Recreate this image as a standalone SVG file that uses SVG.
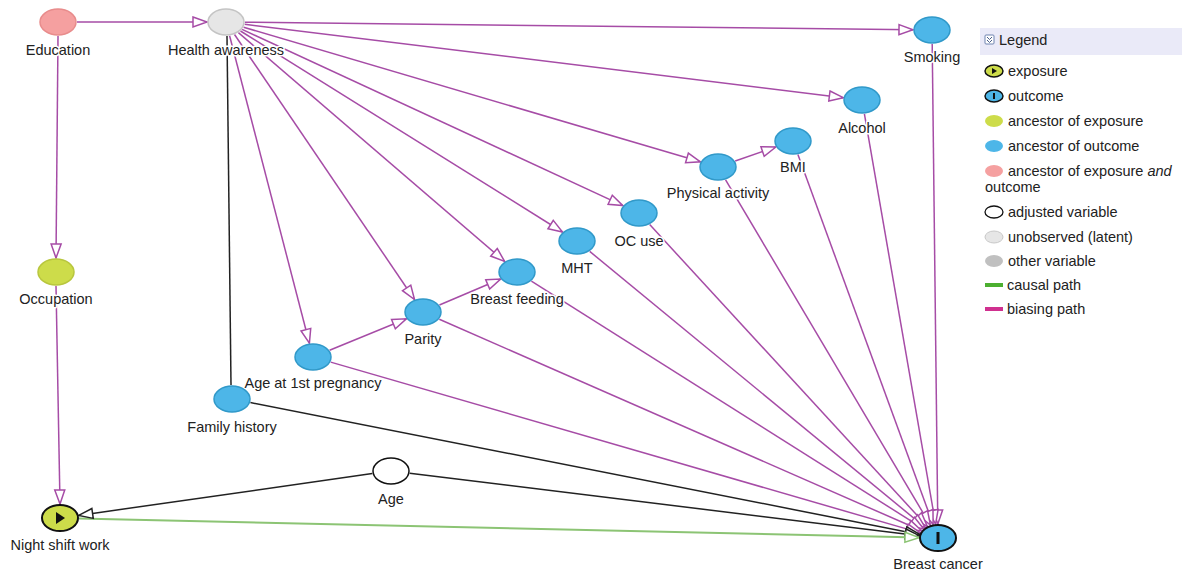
<svg xmlns="http://www.w3.org/2000/svg" width="1182" height="571" viewBox="0 0 1182 571">
<style>
text{font-family:"Liberation Sans",Arial,sans-serif;font-size:14.5px;fill:#222}
.lbl{text-anchor:middle;paint-order:stroke;stroke:#fff;stroke-width:3px;stroke-linejoin:round}
.pk{stroke:#a64ca6;stroke-width:1.5;fill:none;marker-end:url(#ap)}
.bk{stroke:#222;stroke-width:1.5;fill:none}
.gr{stroke:#8cc474;stroke-width:2;fill:none;marker-end:url(#ag)}
.blue{fill:#4db6e8;stroke:#3199c9;stroke-width:1.5}
.pinkn{fill:#f5a0a0;stroke:#e88c8c;stroke-width:1.5}
.gray{fill:#e6e6e6;stroke:#c4c4c4;stroke-width:1.5}
.yel{fill:#cddc4a;stroke:#b8c63e;stroke-width:1.5}
</style>
<defs>
<marker id="ap" markerUnits="userSpaceOnUse" markerWidth="16" markerHeight="12" refX="14" refY="5" orient="auto" overflow="visible"><path d="M0,0 L14,5 L0,10 Z" fill="#fff" stroke="#a64ca6" stroke-width="1.5"/></marker>
<marker id="ab" markerUnits="userSpaceOnUse" markerWidth="16" markerHeight="12" refX="14" refY="5" orient="auto" overflow="visible"><path d="M0,0 L14,5 L0,10 Z" fill="#fff" stroke="#222" stroke-width="1.5"/></marker>
<marker id="ag" markerUnits="userSpaceOnUse" markerWidth="16" markerHeight="12" refX="14" refY="5" orient="auto" overflow="visible"><path d="M0,0 L14,5 L0,10 Z" fill="#fff" stroke="#8cc474" stroke-width="1.5"/></marker>
</defs>
<rect width="1182" height="571" fill="#fff"/>
<g id="connectors">
<line class="pk" x1="77" y1="22" x2="207" y2="22"/>
<line class="pk" x1="58" y1="36" x2="56" y2="258"/>
<line class="pk" x1="56" y1="286" x2="60" y2="504"/>
<line class="pk" x1="245" y1="22.2" x2="913" y2="29.8"/>
<line class="pk" x1="244.7" y1="24.3" x2="843.3" y2="97.7"/>
<line class="pk" x1="243.6" y1="27.2" x2="700.4" y2="161.8"/>
<line class="pk" x1="242.1" y1="29.4" x2="622.9" y2="205.6"/>
<line class="pk" x1="240.5" y1="31" x2="562.5" y2="232"/>
<line class="pk" x1="238.4" y1="32.6" x2="504.6" y2="261.4"/>
<line class="pk" x1="234.5" y1="34.5" x2="414.5" y2="299.5"/>
<line class="pk" x1="229.6" y1="35.8" x2="309.4" y2="343.2"/>
<line class="bk" x1="227" y1="36" x2="231" y2="385"/>
<line class="pk" x1="329.6" y1="350.2" x2="406.4" y2="318.8"/>
<line class="pk" x1="439.4" y1="305" x2="500.6" y2="279"/>
<line class="pk" x1="735.2" y1="161" x2="775.8" y2="147"/>
<line class="pk" x1="932.2" y1="44" x2="937.8" y2="524"/>
<line class="pk" x1="864.4" y1="113.9" x2="935.6" y2="524.1"/>
<line class="pk" x1="797.9" y1="154.5" x2="933.1" y2="524.5"/>
<line class="pk" x1="725.6" y1="179.8" x2="930.4" y2="525.2"/>
<line class="pk" x1="649.7" y1="224.6" x2="927.3" y2="526.4"/>
<line class="pk" x1="589.7" y1="251.4" x2="925.3" y2="527.6"/>
<line class="pk" x1="531.4" y1="281.1" x2="923.6" y2="528.9"/>
<line class="pk" x1="439.3" y1="319.2" x2="921.7" y2="530.8"/>
<line class="pk" x1="330.7" y1="362.1" x2="920.3" y2="532.9"/>
<line class="bk" x1="250.4" y1="402.6" x2="919.6" y2="534.4" marker-end="url(#ab)"/>
<line class="bk" x1="409.7" y1="473.3" x2="919.3" y2="535.7" marker-end="url(#ab)"/>
<line class="gr" x1="79" y1="518.4" x2="919" y2="537.6"/>
<line class="bk" x1="372.3" y1="473.6" x2="78.7" y2="515.4" marker-end="url(#ab)"/>
</g>
<g id="education"><ellipse class="pinkn" cx="58" cy="22" rx="18" ry="13"/><text class="lbl" x="58" y="55">Education</text></g>
<g id="health-awareness"><ellipse class="gray" cx="226" cy="22" rx="18" ry="13"/><text class="lbl" x="226" y="55">Health awareness</text></g>
<g id="smoking"><ellipse class="blue" cx="932" cy="30" rx="18" ry="13"/><text class="lbl" x="932" y="62">Smoking</text></g>
<g id="alcohol"><ellipse class="blue" cx="862" cy="100" rx="18" ry="13"/><text class="lbl" x="862" y="133">Alcohol</text></g>
<g id="bmi"><ellipse class="blue" cx="793" cy="141" rx="18" ry="13"/><text class="lbl" x="793" y="172">BMI</text></g>
<g id="physical-activity"><ellipse class="blue" cx="718" cy="167" rx="18" ry="13"/><text class="lbl" x="718" y="198">Physical activity</text></g>
<g id="oc-use"><ellipse class="blue" cx="639" cy="213" rx="18" ry="13"/><text class="lbl" x="639" y="246">OC use</text></g>
<g id="mht"><ellipse class="blue" cx="577" cy="241" rx="18" ry="13"/><text class="lbl" x="577" y="273">MHT</text></g>
<g id="breast-feeding"><ellipse class="blue" cx="517" cy="272" rx="18" ry="13"/><text class="lbl" x="517" y="304">Breast feeding</text></g>
<g id="parity"><ellipse class="blue" cx="423" cy="312" rx="18" ry="13"/><text class="lbl" x="423" y="344">Parity</text></g>
<g id="age-1st-pregnancy"><ellipse class="blue" cx="313" cy="357" rx="18" ry="13"/><text class="lbl" x="313" y="388">Age at 1st pregnancy</text></g>
<g id="family-history"><ellipse class="blue" cx="232" cy="399" rx="18" ry="13"/><text class="lbl" x="232" y="432">Family history</text></g>
<g id="occupation"><ellipse class="yel" cx="56" cy="272" rx="18" ry="13"/><text class="lbl" x="56" y="304">Occupation</text></g>
<g id="night-shift-work"><ellipse cx="60" cy="518" rx="18" ry="13" fill="#cddc4a" stroke="#111" stroke-width="2"/><path d="M56,512 L65,518 L56,524 Z" fill="#111"/><text class="lbl" x="60" y="550">Night shift work</text></g>
<g id="age"><ellipse cx="391" cy="471" rx="18" ry="13" fill="#fff" stroke="#111" stroke-width="1.5"/><text class="lbl" x="391" y="504">Age</text></g>
<g id="breast-cancer"><ellipse cx="938" cy="538" rx="18" ry="13" fill="#4db6e8" stroke="#111" stroke-width="2"/><rect x="936.5" y="532" width="3" height="12" fill="#111"/><text class="lbl" x="938" y="569">Breast cancer</text></g>
<g id="legend">
<rect x="980" y="28" width="202" height="27" fill="#eaeaf8"/>
<rect x="985" y="35" width="9" height="9" fill="#fff" stroke="#6f84b0" stroke-width="1" rx="1"/>
<path d="M987,37 L989.5,39.5 L992,37 M987,40 L989.5,42.5 L992,40" fill="none" stroke="#4a5f8a" stroke-width="1"/>
<text x="999" y="45">Legend</text>
<ellipse cx="994" cy="71" rx="9" ry="6" fill="#cddc4a" stroke="#111" stroke-width="1.5"/><path d="M992,68 L997,71 L992,74 Z" fill="#111"/>
<text x="1008" y="76">exposure</text>
<ellipse cx="994" cy="96" rx="9" ry="6" fill="#4db6e8" stroke="#111" stroke-width="1.5"/><rect x="993" y="93" width="2" height="6" fill="#111"/>
<text x="1008" y="101">outcome</text>
<ellipse cx="994" cy="121" rx="9" ry="6" fill="#cddc4a"/>
<text x="1008" y="126">ancestor of exposure</text>
<ellipse cx="994" cy="146" rx="9" ry="6" fill="#4db6e8"/>
<text x="1008" y="151">ancestor of outcome</text>
<ellipse cx="994" cy="171" rx="9" ry="6" fill="#f5a0a0"/>
<text x="1008" y="176">ancestor of exposure <tspan font-style="italic">and</tspan></text>
<text x="985" y="192">outcome</text>
<ellipse cx="994" cy="212" rx="9" ry="6" fill="#fff" stroke="#111" stroke-width="1.3"/>
<text x="1008" y="217">adjusted variable</text>
<ellipse cx="994" cy="237" rx="9" ry="6" fill="#e6e6e6" stroke="#c8c8c8" stroke-width="1"/>
<text x="1008" y="242">unobserved (latent)</text>
<ellipse cx="994" cy="261" rx="9" ry="6" fill="#c0c0c0"/>
<text x="1008" y="266">other variable</text>
<line x1="985" y1="285" x2="1003" y2="285" stroke="#4caf30" stroke-width="4"/>
<text x="1007" y="290">causal path</text>
<line x1="985" y1="309" x2="1003" y2="309" stroke="#d0308f" stroke-width="4"/>
<text x="1007" y="314">biasing path</text>
</g>
</svg>
